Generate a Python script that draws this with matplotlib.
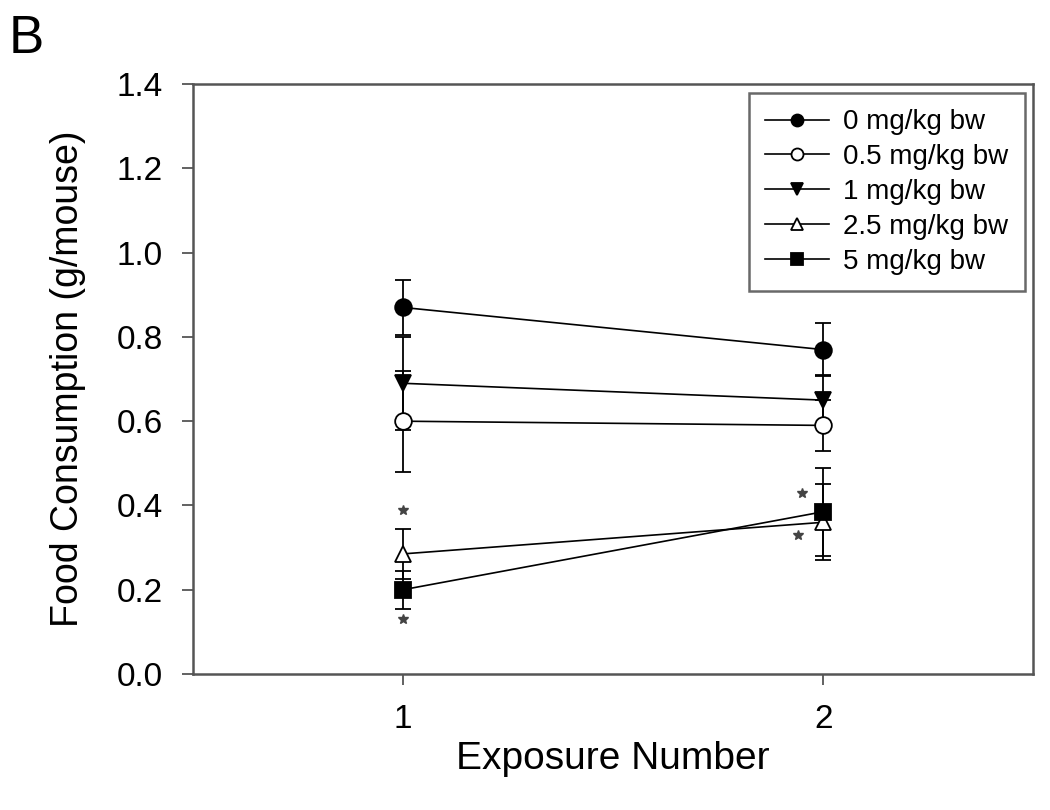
import matplotlib
matplotlib.use("Agg")
import matplotlib.pyplot as plt

plt.rcParams['font.family'] = ['Liberation Sans', 'DejaVu Sans']

exposure = [1, 2]
labels = ["0 mg/kg bw", "0.5 mg/kg bw", "1 mg/kg bw", "2.5 mg/kg bw", "5 mg/kg bw"]
means = [
    [0.87, 0.77],
    [0.60, 0.59],
    [0.69, 0.65],
    [0.285, 0.36],
    [0.20, 0.385],
]
errs = [
    [0.065, 0.063],
    [0.12, 0.06],
    [0.11, 0.06],
    [0.06, 0.09],
    [0.045, 0.105],
]
# asterisk positions (x, y)
star_x = [1, 1, 1.95, 1.94]
star_y = [0.39, 0.13, 0.43, 0.33]

markers = ["o", "o", "v", "^", "s"]
faces = ["black", "white", "black", "white", "black"]

fig = plt.figure(figsize=(10.5, 8.1), dpi=100)
ax = fig.add_axes([0.184, 0.168, 0.8, 0.728])

for m, e, lab, mk, fc in zip(means, errs, labels, markers, faces):
    ax.errorbar(exposure, m, yerr=e, color="black", lw=1.2, marker=mk,
                markersize=12, markerfacecolor=fc, markeredgecolor="black",
                markeredgewidth=1.3, capsize=6, elinewidth=1.3, capthick=1.3,
                label=lab)

ax.plot(star_x, star_y, linestyle="none", marker="*", color="#444444",
        markersize=7)

ax.set_xlim(0.5, 2.5)
ax.set_ylim(0, 1.4)
ax.set_xticks([1, 2])
ax.set_yticks([0.0, 0.2, 0.4, 0.6, 0.8, 1.0, 1.2, 1.4])
ax.set_yticklabels(["0.0", "0.2", "0.4", "0.6", "0.8", "1.0", "1.2", "1.4"])
ax.tick_params(direction="out", length=8, width=1.3, labelsize=24,
               colors="#555555", labelcolor="black")
ax.tick_params(axis="y", pad=14)
ax.tick_params(axis="x", pad=14)
for s in ax.spines.values():
    s.set_linewidth(1.8)
    s.set_edgecolor("#555555")
ax.set_xlabel("Exposure Number", fontsize=28, labelpad=4)
ax.set_ylabel("Food Consumption (g/mouse)", fontsize=27, labelpad=22)

handles, _ = ax.get_legend_handles_labels()
leg = ax.legend(handles=[h[0] for h in handles], labels=labels,
                loc="upper right", fontsize=20, frameon=True, fancybox=False,
                edgecolor="#444444", markerscale=0.72, handlelength=2.3,
                borderpad=0.6, labelspacing=0.32, handletextpad=0.5,
                borderaxespad=0.3)
leg.get_frame().set_linewidth(1.8)

fig.text(0.008, 0.935, "B", fontsize=38)

fig.savefig("out.png", dpi=100)
